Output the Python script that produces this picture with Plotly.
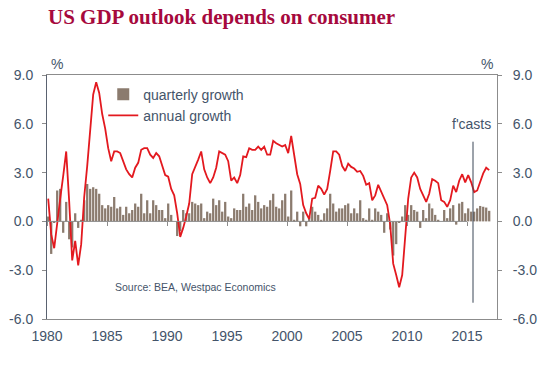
import plotly.graph_objects as go

start_year = 1980
quarterly_growth = [
    0.3, -2.0, -0.1, 1.9,   # 1980
    2.0, -0.7, 1.2, -1.1,   # 1981
    -1.6, 0.5, -0.4, 0.1,   # 1982
    1.3, 2.3, 2.0, 2.1,     # 1983
    2.0, 1.7, 1.0, 0.8,     # 1984
    1.0, 0.9, 1.5, 0.8,     # 1985
    0.9, 0.4, 0.9, 0.5,     # 1986
    0.7, 1.1, 0.9, 1.7,     # 1987
    0.5, 1.3, 0.5, 1.3,     # 1988
    1.0, 0.7, 0.7, 0.2,     # 1989
    1.1, 0.4, 0.0, -0.9,    # 1990
    -0.6, 0.7, 0.5, 0.5,    # 1991
    1.2, 1.1, 1.0, 1.1,     # 1992
    0.2, 0.6, 0.5, 1.4,     # 1993
    1.0, 1.3, 0.6, 1.2,     # 1994
    0.3, 0.2, 0.8, 0.7,     # 1995
    0.7, 1.7, 0.9, 1.1,     # 1996
    0.7, 1.6, 1.2, 0.8,     # 1997
    1.0, 0.9, 1.3, 1.7,     # 1998
    0.9, 0.8, 1.3, 1.7,     # 1999
    0.3, 1.9, 0.1, 0.6,     # 2000
    -0.3, 0.6, -0.3, 0.3,   # 2001
    0.9, 0.6, 0.4, 0.1,     # 2002
    0.5, 0.8, 1.7, 1.1,     # 2003
    0.6, 0.8, 0.8, 1.0,     # 2004
    1.1, 0.5, 0.8, 0.5,     # 2005
    1.3, 0.2, 0.1, 0.8,     # 2006
    0.1, 0.8, 0.6, 0.4,     # 2007
    -0.7, 0.5, -0.5, -2.1,  # 2008
    -1.4, -0.1, 0.3, 1.0,   # 2009
    0.4, 1.0, 0.7, 0.6,     # 2010
    -0.4, 0.7, 0.2, 1.1,    # 2011
    0.8, 0.4, 0.1, 0.0,     # 2012
    0.7, 0.2, 0.8, 1.0,     # 2013
    -0.2, 1.1, 1.2, 0.5,    # 2014
    0.8, 0.6, 0.6, 0.8,     # 2015
    0.95, 0.9, 0.85, 0.65,  # 2016
]
annual_growth = [
    1.4, -0.8, -1.65, 0.0,    # 1980
    1.4, 2.8, 4.3, 1.2,       # 1981
    -2.4, -1.2, -2.7, -1.4,   # 1982
    1.5, 3.4, 5.7, 7.8,       # 1983
    8.55, 7.9, 6.6, 5.7,      # 1984
    4.5, 3.7, 4.3, 4.3,       # 1985
    4.2, 3.7, 3.2, 2.9,       # 1986
    2.7, 3.3, 3.6, 4.4,       # 1987
    4.5, 4.5, 4.1, 3.9,       # 1988
    4.2, 4.0, 3.4, 2.85,      # 1989
    2.75, 2.0, 1.6, 0.5,      # 1990
    -0.95, -0.4, 0.3, 1.1,    # 1991
    2.9, 3.3, 3.8, 4.3,       # 1992
    3.2, 2.7, 2.35, 2.7,      # 1993
    3.3, 4.3, 4.2, 4.1,       # 1994
    3.7, 2.5, 2.7, 2.35,      # 1995
    2.85, 4.0, 3.95, 4.5,     # 1996
    4.4, 4.4, 4.6, 4.4,       # 1997
    4.6, 4.1, 4.1, 4.95,      # 1998
    4.8, 4.7, 4.6, 4.7,       # 1999
    4.2, 5.25, 4.0, 2.9,      # 2000
    2.3, 1.0, 0.5, 0.15,      # 2001
    1.4, 1.45, 2.2, 2.0,      # 2002
    1.65, 2.0, 3.1, 4.3,      # 2003
    4.3, 4.1, 3.4, 3.1,       # 2004
    3.55, 3.35, 3.25, 3.05,   # 2005
    3.1, 2.8, 2.25, 2.35,     # 2006
    1.3, 1.6, 2.25, 1.8,      # 2007
    1.4, 1.0, -0.2, -2.6,     # 2008
    -3.3, -4.05, -3.3, -1.2,  # 2009
    1.4, 2.7, 3.0, 2.7,       # 2010
    2.0, 1.6, 1.2, 1.7,       # 2011
    2.6, 2.5, 2.35, 1.3,      # 2012
    1.2, 0.9, 1.3, 2.2,       # 2013
    1.8, 2.5, 2.9, 2.4,       # 2014
    2.85, 2.4, 1.8, 1.9,      # 2015
    2.5, 2.95, 3.3, 3.15,     # 2016
]
quarters = [start_year + i / 4 + 0.1 for i in range(len(quarterly_growth))]

x_ticks = [1980, 1985, 1990, 1995, 2000, 2005, 2010, 2015]
y_ticks = [-6.0, -3.0, 0.0, 3.0, 6.0, 9.0]
y_tick_labels = ["-6.0", "-3.0", "0.0", "3.0", "6.0", "9.0"]
forecast_x = [2015.5, 2015.5]
forecast_y = [-5.0, 4.9]

TXT = "#44546A"
AX = "#8C8C8C"
FONT = "Liberation Sans, Arial, sans-serif"

fig = go.Figure()
fig.add_trace(go.Bar(x=quarters, y=quarterly_growth, name="quarterly growth",
                     marker=dict(color="#8B7B6E", line=dict(width=0)), width=0.19))
fig.add_trace(go.Scatter(x=quarters, y=annual_growth, name="annual growth", mode="lines",
                         line=dict(color="#E3191F", width=1.8)))
fig.add_trace(go.Scatter(x=forecast_x, y=forecast_y, mode="lines", showlegend=False,
                         line=dict(color="#3A4656", width=1), hoverinfo="skip"))
# helper trace for zero-line tick axis
fig.add_trace(go.Scatter(x=[x_ticks[0], x_ticks[-1]], y=[0, 0], xaxis="x2", mode="lines",
                         line=dict(color=AX, width=1), showlegend=False, hoverinfo="skip"))
# helper trace for right axis
fig.add_trace(go.Scatter(x=[x_ticks[0]], y=[0], yaxis="y2", mode="markers",
                         marker=dict(opacity=0), showlegend=False, hoverinfo="skip"))

xr = [1980.0, 2017.5]
fig.update_layout(
    width=560, height=370,
    margin=dict(l=47, r=63, t=75, b=51, autoexpand=False),
    paper_bgcolor="white", plot_bgcolor="white",
    font=dict(family=FONT, size=14, color=TXT),
    bargap=0.2,
    showlegend=True,
    legend=dict(x=0.125, y=0.985, xanchor="left", yanchor="top",
                bgcolor="rgba(0,0,0,0)", font=dict(size=14, color=TXT),
                tracegroupgap=0, itemwidth=30),
    xaxis=dict(range=xr, tickvals=x_ticks, ticks="", showgrid=False, zeroline=False,
               showline=True, linecolor=AX, linewidth=1, mirror=True, automargin=False,
               tickfont=dict(size=14, color=TXT), ticklabelstandoff=4),
    xaxis2=dict(range=xr, overlaying="x", anchor="free", position=0.4, side="bottom",
                tickvals=x_ticks, ticks="outside", ticklen=4, tickcolor=AX, automargin=False,
                showticklabels=False, showgrid=False, zeroline=False, showline=False),
    yaxis=dict(range=[-6, 9], tickvals=y_ticks, ticktext=y_tick_labels, ticks="outside",
               ticklen=4, tickcolor=AX, showgrid=False, zeroline=False, automargin=False,
               showline=True, linecolor="#5A6270", linewidth=1,
               tickfont=dict(size=14, color=TXT), ticklabelstandoff=6),
    yaxis2=dict(range=[-6, 9], tickvals=y_ticks, ticktext=y_tick_labels, ticks="outside",
                ticklen=4, tickcolor=AX, overlaying="y", side="right", showgrid=False,
                zeroline=False, showline=True, linecolor=AX, linewidth=1, automargin=False,
                tickfont=dict(size=14, color=TXT), ticklabelstandoff=8),
)

fig.add_annotation(text="<b>US GDP outlook depends on consumer</b>", xref="paper", yref="paper",
                   x=-0.003, y=1.238, xanchor="left", yanchor="middle", showarrow=False,
                   font=dict(family="Liberation Serif, Times New Roman, serif", size=21, color="#A6093D"))
fig.add_annotation(text="%", xref="paper", yref="paper", x=0.022, y=1.045,
                   xanchor="center", yanchor="middle", showarrow=False, font=dict(size=14, color=TXT))
fig.add_annotation(text="%", xref="paper", yref="paper", x=0.978, y=1.045,
                   xanchor="center", yanchor="middle", showarrow=False, font=dict(size=14, color=TXT))
fig.add_annotation(text="f'casts", x=2017.2, y=6.0, xanchor="right", yanchor="middle",
                   showarrow=False, font=dict(size=14, color=TXT))
fig.add_annotation(text="Source: BEA, Westpac Economics", x=1985.5, y=-4.05,
                   xanchor="left", yanchor="middle", showarrow=False, font=dict(size=10.5, color=TXT))

fig.write_html("out.html", config={"displayModeBar": False},
               post_script="document.body.style.margin='0';document.body.style.overflow='hidden';")
